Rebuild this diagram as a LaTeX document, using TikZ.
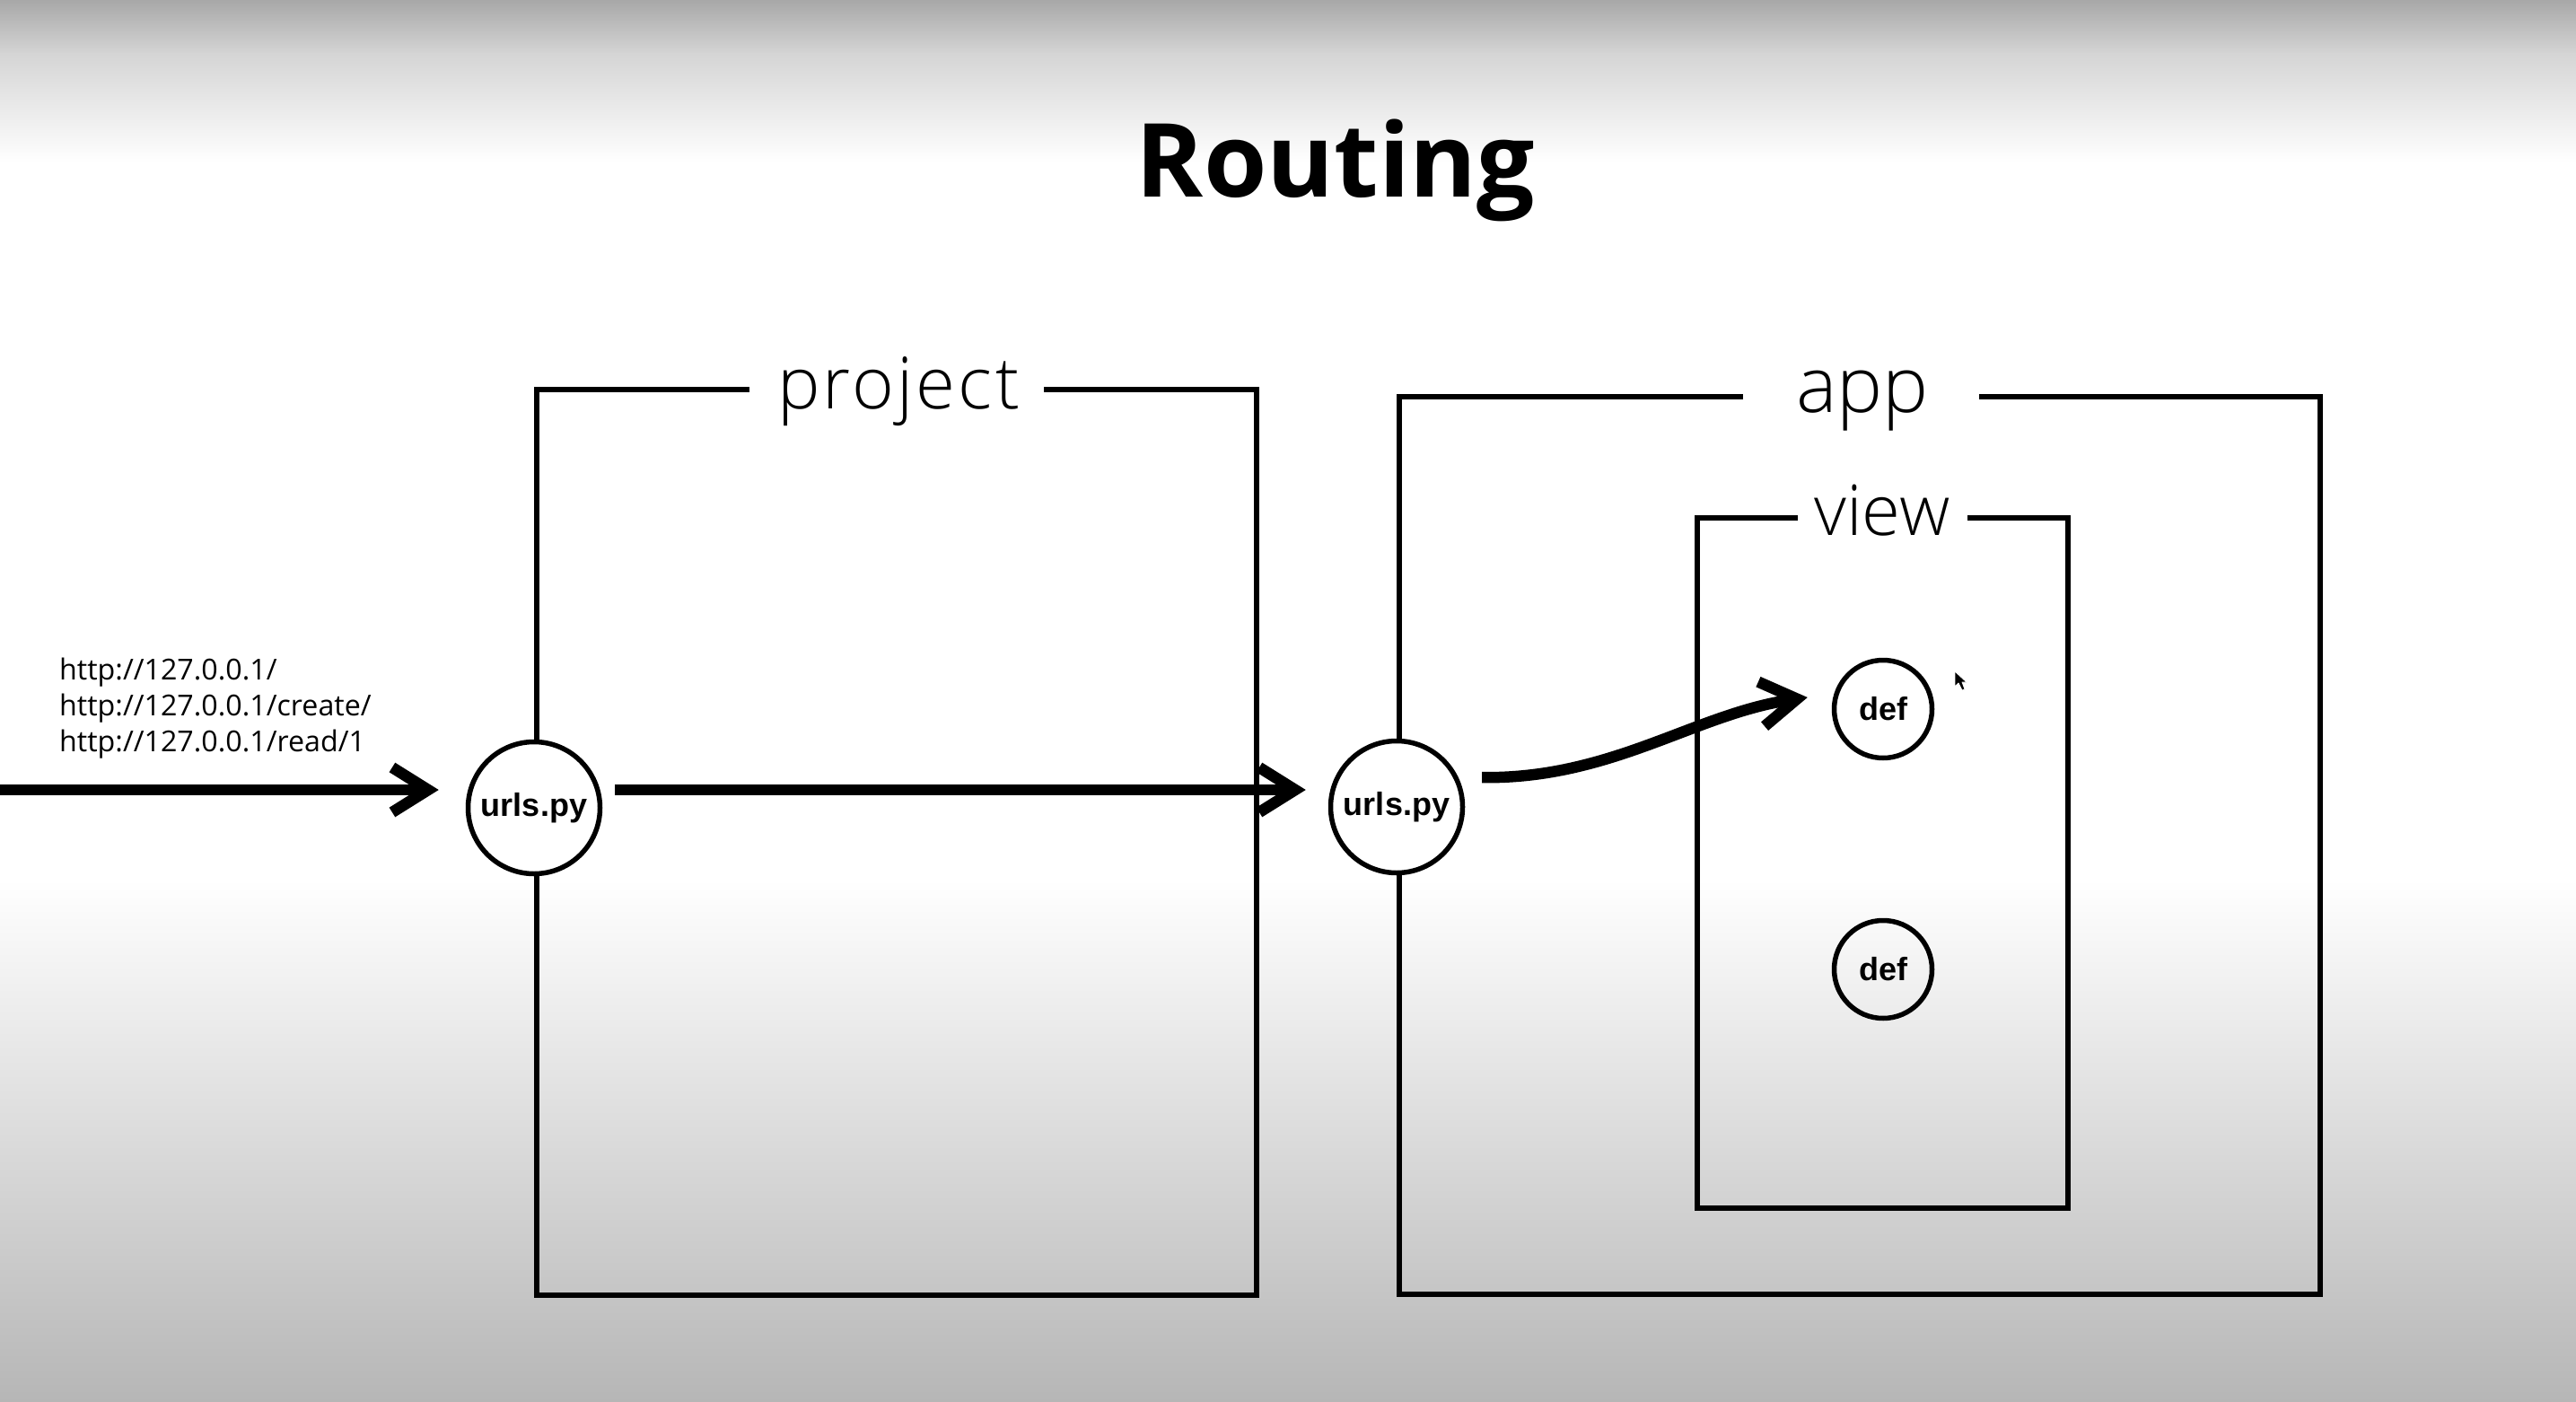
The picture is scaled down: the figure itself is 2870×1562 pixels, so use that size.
\documentclass[tikz,border=0pt]{standalone}
\usepackage{fontspec}
\usetikzlibrary{arrows.meta,calc}
\newfontfamily\osans{Open Sans}
\newfontfamily\oslight{Open Sans Light}
\newfontfamily\oslightsp{Open Sans Light}[LetterSpace=4]
\newfontfamily\helv{Liberation Sans}
\definecolor{topgray}{RGB}{168,168,168}
\definecolor{midgray}{RGB}{213,213,213}
\definecolor{botgray}{RGB}{182,182,182}
\begin{document}
\begin{tikzpicture}[x=1pt,y=-1pt,
  boxline/.style={line width=6.5pt, line join=miter, line cap=butt},
  arr/.style={line width=12.5pt, -{Straight Barb[length=40pt,width=50pt]}},
  circ/.style={circle, draw, line width=5.5pt, inner sep=0pt, font=\helv\bfseries\fontsize{36}{40}\selectfont},
  urlc/.style={circ, minimum size=147pt, fill=white},
  defc/.style={circ, minimum size=109pt},
  lbl/.style={anchor=base, inner sep=0pt, font=\oslight\fontsize{#1}{#1}\selectfont},
  urltxt/.style={anchor=base west, inner sep=0pt, font=\osans\fontsize{32.2}{38}\selectfont}
]
\useasboundingbox (0,0) rectangle (2870,1562);
\fill[white] (0,0) rectangle (2870,1562);
\shade[top color=topgray, bottom color=midgray] (0,0) rectangle (2870,61);
\shade[top color=midgray, bottom color=white] (0,60) rectangle (2870,181);
\shade[top color=white, bottom color=botgray] (0,980) rectangle (2870,1562);

\node[anchor=base, inner sep=0pt, font=\osans\bfseries\fontsize{114}{126}\selectfont] (title) at (1488,220) {Routing};

% boxes
\node[anchor=base, inner sep=0pt, font=\oslightsp\fontsize{80}{80}\selectfont] (pj) at (1001,455) {project};
\draw[boxline] (835,434) -- (598,434) -- (598,1443) -- (1400,1443) -- (1400,434) -- (1163,434);
\node[lbl=86] (app) at (2075,459) {app};
\draw[boxline] (1942,442) -- (1559,442) -- (1559,1442) -- (2585,1442) -- (2585,442) -- (2205,442);
\node[lbl=78] (view) at (2097,596) {view};
\draw[boxline] (2003,577) -- (1891,577) -- (1891,1346) -- (2304,1346) -- (2304,577) -- (2192,577);

% circles
\node[urlc] (u1) at (595,900) {urls.py};
\node[urlc] (u2) at (1556,899) {urls.py};
\node[defc] (d1) at (2098,790) {def};
\node[defc] (d2) at (2098,1080) {def};

% urls
\node[urltxt] (l1) at (66,757) {http://127.0.0.1/};
\node[urltxt] (l2) at (66,797) {http://127.0.0.1/create/};
\node[urltxt] (l3) at (66,837) {http://127.0.0.1/read/1};

% arrows
\coordinate (src) at (0,880);
\draw[arr] (src) -- ($(u1.west |- src)+(-30,0)$);
\draw[arr] ($(u1.east |- src)+(14,0)$) -- ($(u2.west |- src)+(-25,0)$);
\draw[arr] ($(u2.19)+(23,-8)$) .. controls +(145,2) and +(-125,18) .. ($(d1.west)+(-27,-13)$);

% cursor
\filldraw[black, draw=white, line width=0.8pt, line join=round] (2178,748) -- (2178,765) -- (2182,761) -- (2186,769) -- (2189,768) -- (2186,760) -- (2191,760) -- cycle;
\end{tikzpicture}
\end{document}
